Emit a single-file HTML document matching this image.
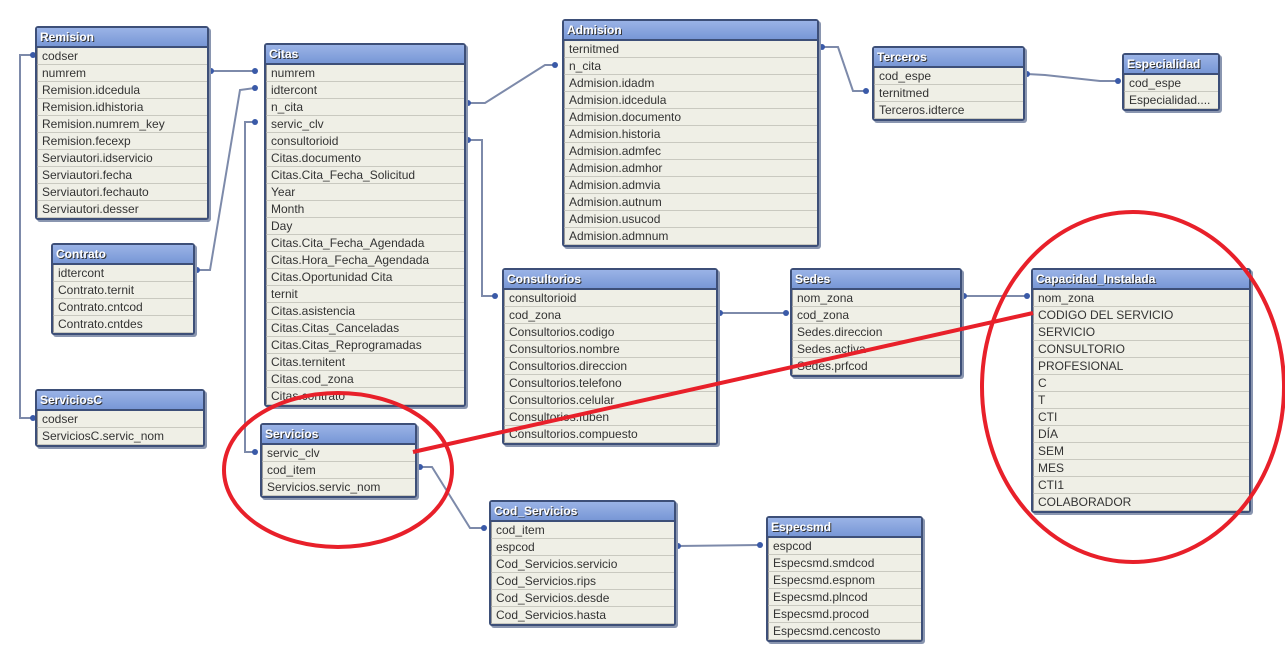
<!DOCTYPE html>
<html><head><meta charset="utf-8"><style>
body{margin:0;width:1285px;height:660px;background:#fff;position:relative;overflow:hidden;font-family:"Liberation Sans",sans-serif}
.t{position:absolute;border:2px solid #3d4f78;border-radius:3px;background:#efefe6;box-shadow:2px 2px 0 #8a96b0}
.h{height:18px;background:linear-gradient(#9ab3e6,#7897d6);color:#fff;font-weight:bold;font-size:12px;line-height:18px;padding-left:3px;text-shadow:1px 1px 0 #333;border-bottom:2px solid #3d4f78}
.r{height:16px;border-bottom:1px solid #c9c9c0;font-size:12px;line-height:16px;color:#333;padding-left:4px;white-space:nowrap;overflow:hidden;border-left:1px solid #999}
svg{position:absolute;left:0;top:0}
</style></head><body>
<svg width="1285" height="660">
<g fill="none" stroke="#7d8aaa" stroke-width="2">
<polyline points="33,55 20,55 20,418 33,418"/>
<polyline points="211,71 255,71"/>
<polyline points="197,270 210,270 240,90 255,88"/>
<polyline points="255,122 245,122 245,452 255,452"/>
<polyline points="468,103 485,103 545,65 555,65"/>
<polyline points="468,140 482,140 482,296 495,296"/>
<polyline points="822,47 838,47 853,91 866,91"/>
<polyline points="1027,74 1045,75 1100,81 1118,81"/>
<polyline points="720,313 786,313"/>
<polyline points="964,296 1027,296"/>
<polyline points="420,467 432,467 470,528 484,528"/>
<polyline points="678,546 760,545"/>
</g>
<g fill="#3a5aa8">
<circle cx="33" cy="55" r="3"/><circle cx="33" cy="418" r="3"/><circle cx="211" cy="71" r="3"/><circle cx="255" cy="71" r="3"/>
<circle cx="197" cy="270" r="3"/><circle cx="255" cy="88" r="3"/><circle cx="255" cy="122" r="3"/><circle cx="255" cy="452" r="3"/>
<circle cx="468" cy="103" r="3"/><circle cx="555" cy="65" r="3"/><circle cx="468" cy="140" r="3"/><circle cx="495" cy="296" r="3"/>
<circle cx="822" cy="47" r="3"/><circle cx="866" cy="91" r="3"/><circle cx="1027" cy="74" r="3"/><circle cx="1118" cy="81" r="3"/>
<circle cx="720" cy="313" r="3"/><circle cx="786" cy="313" r="3"/><circle cx="964" cy="296" r="3"/><circle cx="1027" cy="296" r="3"/>
<circle cx="420" cy="467" r="3"/><circle cx="484" cy="528" r="3"/><circle cx="678" cy="546" r="3"/><circle cx="760" cy="545" r="3"/>
</g>
</svg>

<div class="t" style="left:35px;top:26px;width:170px"><div class="h">Remision</div>
<div class="r">codser</div><div class="r">numrem</div><div class="r">Remision.idcedula</div><div class="r">Remision.idhistoria</div><div class="r">Remision.numrem_key</div><div class="r">Remision.fecexp</div><div class="r">Serviautori.idservicio</div><div class="r">Serviautori.fecha</div><div class="r">Serviautori.fechauto</div><div class="r">Serviautori.desser</div></div>

<div class="t" style="left:264px;top:43px;width:198px;height:360px;overflow:hidden"><div class="h">Citas</div>
<div class="r">numrem</div><div class="r">idtercont</div><div class="r">n_cita</div><div class="r">servic_clv</div><div class="r">consultorioid</div><div class="r">Citas.documento</div><div class="r">Citas.Cita_Fecha_Solicitud</div><div class="r">Year</div><div class="r">Month</div><div class="r">Day</div><div class="r">Citas.Cita_Fecha_Agendada</div><div class="r">Citas.Hora_Fecha_Agendada</div><div class="r">Citas.Oportunidad Cita</div><div class="r">ternit</div><div class="r">Citas.asistencia</div><div class="r">Citas.Citas_Canceladas</div><div class="r">Citas.Citas_Reprogramadas</div><div class="r">Citas.ternitent</div><div class="r">Citas.cod_zona</div><div class="r">Citas.contrato</div></div>

<div class="t" style="left:562px;top:19px;width:253px"><div class="h">Admision</div>
<div class="r">ternitmed</div><div class="r">n_cita</div><div class="r">Admision.idadm</div><div class="r">Admision.idcedula</div><div class="r">Admision.documento</div><div class="r">Admision.historia</div><div class="r">Admision.admfec</div><div class="r">Admision.admhor</div><div class="r">Admision.admvia</div><div class="r">Admision.autnum</div><div class="r">Admision.usucod</div><div class="r">Admision.admnum</div></div>

<div class="t" style="left:872px;top:46px;width:149px"><div class="h">Terceros</div>
<div class="r">cod_espe</div><div class="r">ternitmed</div><div class="r">Terceros.idterce</div></div>

<div class="t" style="left:1122px;top:53px;width:94px"><div class="h">Especialidad</div>
<div class="r">cod_espe</div><div class="r">Especialidad....</div></div>

<div class="t" style="left:51px;top:243px;width:140px"><div class="h">Contrato</div>
<div class="r">idtercont</div><div class="r">Contrato.ternit</div><div class="r">Contrato.cntcod</div><div class="r">Contrato.cntdes</div></div>

<div class="t" style="left:35px;top:389px;width:166px"><div class="h">ServiciosC</div>
<div class="r">codser</div><div class="r">ServiciosC.servic_nom</div></div>

<div class="t" style="left:260px;top:423px;width:153px"><div class="h">Servicios</div>
<div class="r">servic_clv</div><div class="r">cod_item</div><div class="r">Servicios.servic_nom</div></div>

<div class="t" style="left:502px;top:268px;width:212px"><div class="h">Consultorios</div>
<div class="r">consultorioid</div><div class="r">cod_zona</div><div class="r">Consultorios.codigo</div><div class="r">Consultorios.nombre</div><div class="r">Consultorios.direccion</div><div class="r">Consultorios.telefono</div><div class="r">Consultorios.celular</div><div class="r">Consultorios.fuben</div><div class="r">Consultorios.compuesto</div></div>

<div class="t" style="left:790px;top:268px;width:168px"><div class="h">Sedes</div>
<div class="r">nom_zona</div><div class="r">cod_zona</div><div class="r">Sedes.direccion</div><div class="r">Sedes.activa</div><div class="r">Sedes.prfcod</div></div>

<div class="t" style="left:1031px;top:268px;width:216px"><div class="h">Capacidad_Instalada</div>
<div class="r">nom_zona</div><div class="r">CODIGO DEL SERVICIO</div><div class="r">SERVICIO</div><div class="r">CONSULTORIO</div><div class="r">PROFESIONAL</div><div class="r">C</div><div class="r">T</div><div class="r">CTI</div><div class="r">DÍA</div><div class="r">SEM</div><div class="r">MES</div><div class="r">CTI1</div><div class="r">COLABORADOR</div></div>

<div class="t" style="left:489px;top:500px;width:183px"><div class="h">Cod_Servicios</div>
<div class="r">cod_item</div><div class="r">espcod</div><div class="r">Cod_Servicios.servicio</div><div class="r">Cod_Servicios.rips</div><div class="r">Cod_Servicios.desde</div><div class="r">Cod_Servicios.hasta</div></div>

<div class="t" style="left:766px;top:516px;width:153px"><div class="h">Especsmd</div>
<div class="r">espcod</div><div class="r">Especsmd.smdcod</div><div class="r">Especsmd.espnom</div><div class="r">Especsmd.plncod</div><div class="r">Especsmd.procod</div><div class="r">Especsmd.cencosto</div></div>

<svg width="1285" height="660" style="pointer-events:none">
<g fill="none" stroke="#e8202a" stroke-width="4">
<ellipse cx="338" cy="470" rx="114" ry="77"/>
<ellipse cx="1133" cy="387" rx="151" ry="175"/>
<line x1="413" y1="452" x2="1033" y2="313"/>
</g>
</svg>
</body></html>
